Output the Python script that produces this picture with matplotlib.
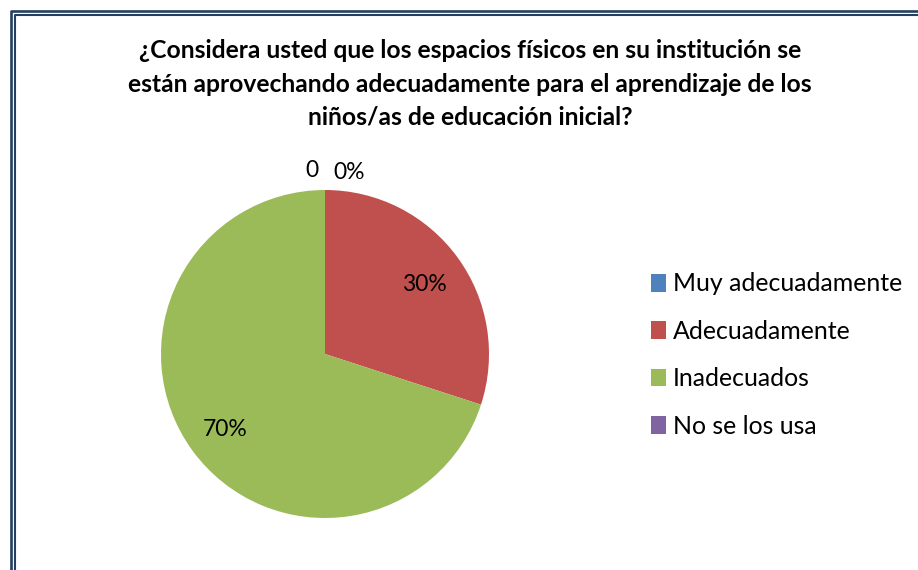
import matplotlib
matplotlib.use("Agg")
import matplotlib.pyplot as plt
from matplotlib.lines import Line2D
from matplotlib.patches import Patch
import numpy as np

# data
categories = ["Muy adecuadamente", "Adecuadamente", "Inadecuados", "No se los usa"]
values = [0, 30, 70, 0]
shown_labels = ["0%", "30%", "70%", "0"]
colors = ["#4F81BD", "#C0504D", "#9BBB59", "#8064A2"]

title = ("¿Considera usted que los espacios físicos en su institución se\n"
         "están aprovechando adecuadamente para el aprendizaje de los\n"
         "niños/as de educación inicial?")

plt.rcParams['font.family'] = ['Lato', 'DejaVu Sans']

W, H = 918, 570
fig = plt.figure(figsize=(W / 100, H / 100), dpi=100)

# pie axes: centre (325, 354), radius 164 px
cx, cy, r = 325, 354, 164
ax = fig.add_axes([(cx - r) / W, (H - cy - r) / H, 2 * r / W, 2 * r / H])
wedges, _ = ax.pie(values, colors=colors, startangle=90, counterclock=False,
                   wedgeprops=dict(linewidth=0))
ax.set_xlim(-1, 1)
ax.set_ylim(-1, 1)
ax.set_aspect('equal')
ax.axis('off')

# percentage labels
total = sum(values)
start = 90.0
for i, (v, lab) in enumerate(zip(values, shown_labels)):
    sweep = 360.0 * v / total
    mid = np.deg2rad(start - sweep / 2)
    start -= sweep
    if v > 0:
        d = 0.75
        ax.text(d * np.cos(mid), d * np.sin(mid) - 0.02, lab, ha='center', va='center',
                fontsize=16.5, color='black')
    else:
        # zero slices sit at the top, just outside the pie
        if i == 0:
            ax.text(0.05, 1.105, lab, ha='left', va='center', fontsize=16.5, clip_on=False)
        else:
            ax.text(-0.04, 1.12, lab, ha='right', va='center', fontsize=16.5, clip_on=False)

fig.text(470 / W, 1 - 84 / H, title, ha='center', va='center', fontsize=17.7,
         fontweight='bold', linespacing=1.55)

handles = [Patch(facecolor=c, edgecolor='none') for c in colors]
fig.legend(handles, categories, loc='center left', bbox_to_anchor=(651 / W, 1 - 355 / H),
           frameon=False, fontsize=17.9, handlelength=0.62, handleheight=0.72,
           handletextpad=0.26, labelspacing=0.98, borderpad=0, borderaxespad=0)

# double frame (right and bottom run off the picture)
navy = "#243F60"
ox, oy = 10.5 / W, 1 - 10.5 / H
ix, iy = 15 / W, 1 - 15 / H
fig.add_artist(Line2D([ox, ox, 1.01], [-0.01, oy, oy], color=navy, lw=1.9,
                      transform=fig.transFigure))
fig.add_artist(Line2D([ix, ix, 1.01], [-0.01, iy, iy], color=navy, lw=1.5,
                      transform=fig.transFigure))

fig.savefig("out.png", dpi=100, facecolor='white')
